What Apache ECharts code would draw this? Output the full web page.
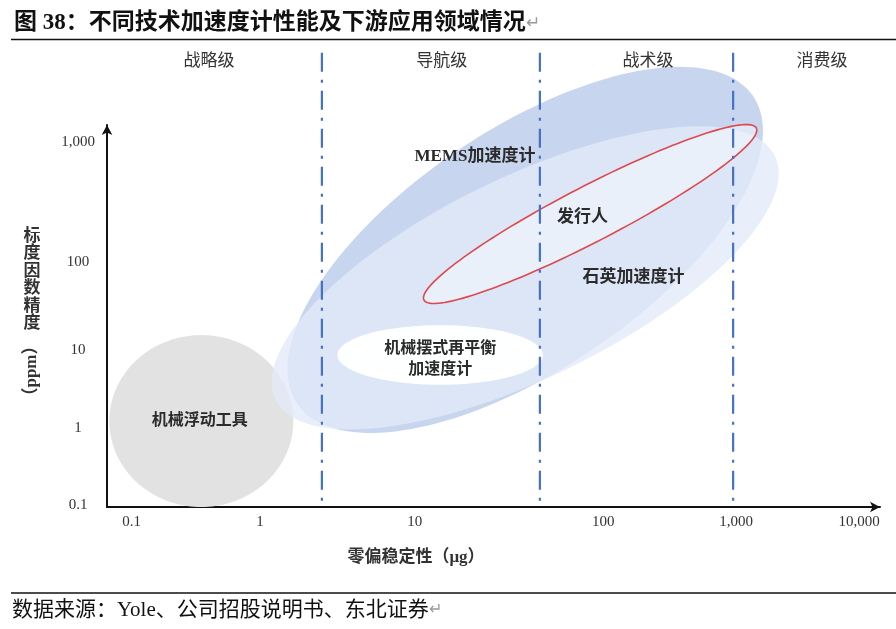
<!DOCTYPE html>
<html><head><meta charset="utf-8">
<script src="https://cdn.jsdelivr.net/npm/echarts@6/dist/echarts.min.js"></script>
<style>html,body{margin:0;padding:0;background:#fff}#c{width:896px;height:629px}</style>
</head><body><div id="c"></div>
<script>
// ---- data (diagram coordinates: both axes run 0..100) ----
const xTickLabels = ['0.1', '1', '10', '100', '1,000', '10,000'];
const xTickPos = [3.2, 19.8, 39.8, 64.2, 81.4, 97.3];
const yTickLabels = ['0.1', '1', '10', '100', '1,000'];
const yTickPos = [0.5, 20.6, 41.1, 64.2, 95.6];

const gradeNames = ['战略级', '导航级', '战术级', '消费级'];
const gradeLabelX = [13.2, 43.3, 70.0, 92.5];
const gradeBounds = [27.8, 56.0, 81.0];

const regionNames = ['机械浮动工具', 'MEMS加速度计', '石英加速度计', '发行人', '机械摆式再平衡\n加速度计'];
const regionCenter   = [[12.2, 22.5], [54.1, 67.3], [54.1, 60.0], [62.5, 76.7], [43.1, 39.8]];
const regionMajorEnd = [[24.1, 22.5], [83.6, 107.5], [86.4, 91.9], [84.0, 99.2], [56.4, 39.8]];
const regionMinorEnd = [[12.2, 45.0], [62.8, 41.2], [59.8, 36.4], [64.1, 70.2], [43.1, 47.6]];
const regionLabelAt  = [[12.0, 22.5], [47.6, 91.6], [68.1, 60.0], [61.5, 75.7], [43.1, 38.7]];

// ---- styles ----
const serif = "'Liberation Serif','Noto Sans CJK SC',serif";
const regionStyle = [
  { fill: '#e2e2e2' },
  { fill: '#c8d5ee' },
  { fill: 'rgba(226,235,249,0.78)' },
  { fill: 'rgba(247,250,254,0.5)', stroke: '#dc4a4f', lineWidth: 1.6 },
  { fill: 'rgba(255,255,255,0.97)' }
];
const regionFont = [16, 17, 17, 17, 16];
const GRADE_Y = 116.5, DIV_TOP = 118.9;

function ellipseItem(params, api) {
  const i = params.dataIndex;
  const c = regionCenter[i], m = regionMajorEnd[i], n = regionMinorEnd[i];
  const pts = [];
  const N = 160;
  for (let k = 0; k < N; k++) {
    const t = 2 * Math.PI * k / N;
    const x = c[0] + (m[0] - c[0]) * Math.cos(t) + (n[0] - c[0]) * Math.sin(t);
    const y = c[1] + (m[1] - c[1]) * Math.cos(t) + (n[1] - c[1]) * Math.sin(t);
    pts.push(api.coord([x, y]));
  }
  return { type: 'polygon', shape: { points: pts }, style: regionStyle[i] };
}
function regionLabelItem(params, api) {
  const i = params.dataIndex;
  const p = api.coord(regionLabelAt[i]);
  return { type: 'text', x: p[0], y: p[1], style: {
    text: regionNames[i], fill: '#2b2b2b', fontSize: regionFont[i], fontWeight: 'bold',
    fontFamily: serif, align: 'center', verticalAlign: 'middle', lineHeight: 21 } };
}
function dividerItem(params, api) {
  const x = gradeBounds[params.dataIndex];
  const p1 = api.coord([x, DIV_TOP]), p2 = api.coord([x, 0]);
  return { type: 'line', shape: { x1: p1[0], y1: p1[1], x2: p2[0], y2: p2[1] },
    style: { stroke: '#4472c4', lineWidth: 2.2, lineDash: [19, 8, 3, 8] } };
}
function gradeItem(params, api) {
  const i = params.dataIndex;
  const p = api.coord([gradeLabelX[i], GRADE_Y]);
  return { type: 'text', x: p[0], y: p[1], style: {
    text: gradeNames[i], fill: '#333', fontSize: 17, fontFamily: serif,
    align: 'center', verticalAlign: 'middle' } };
}

const chart = echarts.init(document.getElementById('c'));
chart.setOption({
  animation: false,
  backgroundColor: '#fff',
  grid: { left: 107, right: 16, top: 125, bottom: 122 },
  xAxis: {
    type: 'value', min: 0, max: 100,
    splitLine: { show: false }, axisTick: { show: false },
    axisLine: { show: true, symbol: ['none', 'arrow'], symbolSize: [8, 10], lineStyle: { color: '#111', width: 2 } },
    axisLabel: { customValues: xTickPos, margin: 8, color: '#333', fontSize: 15, fontFamily: serif,
      formatter: v => xTickLabels[xTickPos.indexOf(v)] || '' }
  },
  yAxis: {
    type: 'value', min: 0, max: 100,
    splitLine: { show: false }, axisTick: { show: false },
    axisLine: { show: true, symbol: ['none', 'arrow'], symbolSize: [8, 10], lineStyle: { color: '#111', width: 2 } },
    axisLabel: { customValues: yTickPos, margin: 29, align: 'center', color: '#333', fontSize: 15, fontFamily: serif,
      formatter: v => yTickLabels[yTickPos.indexOf(v)] || '' }
  },
  series: [
    { type: 'custom', renderItem: ellipseItem, data: regionCenter, z: 2, silent: true },
    { type: 'custom', renderItem: dividerItem, data: gradeBounds.map(x => [x, 0]), z: 3, clip: false, silent: true },
    { type: 'custom', renderItem: regionLabelItem, data: regionLabelAt, z: 4, silent: true },
    { type: 'custom', renderItem: gradeItem, data: gradeLabelX.map(x => [x, GRADE_Y]), z: 4, clip: false, silent: true }
  ],
  graphic: [
    { type: 'text', x: 14, y: 23, style: {
      text: '图 38：不同技术加速度计性能及下游应用领域情况{r|↵}',
      fontSize: 23, fontWeight: 'bold', fontFamily: serif, fill: '#111', verticalAlign: 'middle',
      rich: { r: { fontSize: 17, fontWeight: 'normal', fill: '#999' } } } },
    { type: 'line', shape: { x1: 11, y1: 39.5, x2: 896, y2: 39.5 }, style: { stroke: '#111', lineWidth: 1.6 } },
    { type: 'text', x: 32, y: 280, style: {
      text: '标\n度\n因\n数\n精\n度', fontSize: 17, fontWeight: 'bold', fontFamily: serif, fill: '#333',
      align: 'center', verticalAlign: 'middle', lineHeight: 17.5 } },
    { type: 'text', x: 32, y: 371, rotation: Math.PI / 2, style: {
      text: '（ppm）', fontSize: 17, fontWeight: 'bold', fontFamily: serif, fill: '#333',
      align: 'center', verticalAlign: 'middle' } },
    { type: 'text', x: 416, y: 558, style: {
      text: '零偏稳定性（μg）', fontSize: 17, fontWeight: 'bold', fontFamily: serif, fill: '#333',
      align: 'center', verticalAlign: 'middle' } },
    { type: 'line', shape: { x1: 11, y1: 593, x2: 896, y2: 593 }, style: { stroke: '#111', lineWidth: 1.4 } },
    { type: 'text', x: 12, y: 610, style: {
      text: '数据来源：Yole、公司招股说明书、东北证券{r|↵}',
      fontSize: 21, fontFamily: serif, fill: '#111', verticalAlign: 'middle',
      rich: { r: { fontSize: 16, fill: '#999' } } } }
  ]
});
</script></body></html>
